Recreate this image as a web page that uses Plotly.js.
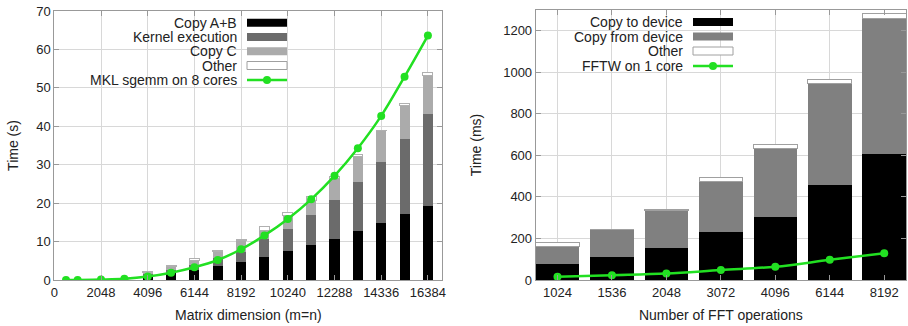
<!DOCTYPE html>
<html>
<head>
<meta charset="utf-8">
<script src="https://cdn.plot.ly/plotly-3.0.1.min.js"></script>
<style>html,body{margin:0;padding:0;background:#fff;}#chart{width:908px;height:326px;}</style>
</head>
<body>
<div id="chart"></div>
<script>
// ---------- Left chart data: SGEMM ----------
const gemmSizes = [4096, 5120, 6144, 7168, 8192, 9216, 10240, 11264, 12288, 13312, 14336, 15360, 16384];
const gemmCopyAB = [0.8, 1.7, 2.6, 3.7, 4.8, 6.1, 7.6, 9.1, 10.8, 12.7, 14.9, 17.1, 19.3];
const gemmKernel = [0.8, 1.0, 1.3, 1.9, 2.6, 4.5, 5.8, 7.8, 10.0, 12.9, 15.8, 19.5, 23.8];
const gemmCopyC  = [0.4, 0.8, 1.3, 1.8, 2.8, 2.4, 3.5, 3.9, 5.5, 6.5, 8.1, 8.9, 10.2];
const gemmOther  = [0.2, 0.2, 0.3, 0.4, 0.4, 0.8, 0.7, 0.9, 0.6, 0.6, 0.2, 0.5, 0.6];
const mklSizes = [512, 1024, 2048, 3072, 4096, 5120, 6144, 7168, 8192, 9216, 10240, 11264, 12288, 13312, 14336, 15360, 16384];
const mklTime  = [0.0, 0.0, 0.1, 0.3, 0.9, 1.9, 3.3, 5.2, 8.0, 11.6, 15.9, 21.0, 27.1, 34.3, 42.7, 52.9, 63.6];
const gemmXTicks = [0, 2048, 4096, 6144, 8192, 10240, 12288, 14336, 16384];

// ---------- Right chart data: FFT ----------
const fftOps = ['1024', '1536', '2048', '3072', '4096', '6144', '8192'];
const fftCopyTo   = [77, 113, 153, 229, 304, 456, 607];
const fftCopyFrom = [84, 129, 180, 246, 327, 491, 654];
const fftOther    = [21, 3, 5, 20, 21, 16, 20];
const fftwTime    = [16, 23, 31, 48, 64, 97, 129];

// ---------- Styles ----------
const W = 908, H = 326;
const px = x => x / W;
const py = y => 1 - y / H;
const FONT = 'Liberation Sans, Arial, sans-serif';
const TXT = '#222';
const FRAME = '#999';
const GRID = '#d8d8d8';
const GREEN = '#22e022';
const C_BLACK = '#000000', C_DARK = '#6b6b6b', C_LIGHT = '#ababab', C_MID = '#808080';

function barTrace(x, y, color, xa, ya, width, lineColor) {
  const t = {type: 'bar', x: x, y: y, xaxis: xa, yaxis: ya, showlegend: false,
    marker: {color: color, line: {color: lineColor || color, width: lineColor ? 1 : 0}},
    hoverinfo: 'skip'};
  if (width) t.width = width;
  return t;
}

const traces = [
  barTrace(gemmSizes, gemmCopyAB, C_BLACK, 'x', 'y', 440),
  barTrace(gemmSizes, gemmKernel, C_DARK, 'x', 'y', 440),
  barTrace(gemmSizes, gemmCopyC, C_LIGHT, 'x', 'y', 440),
  barTrace(gemmSizes, gemmOther, '#ffffff', 'x', 'y', 440, '#b0b0b0'),
  {type: 'scatter', mode: 'lines+markers', x: mklSizes, y: mklTime, xaxis: 'x', yaxis: 'y',
   line: {color: GREEN, width: 2.5, shape: 'spline'}, marker: {color: GREEN, size: 8}, showlegend: false},
  barTrace(fftOps, fftCopyTo, C_BLACK, 'x2', 'y2'),
  barTrace(fftOps, fftCopyFrom, C_MID, 'x2', 'y2'),
  barTrace(fftOps, fftOther, '#ffffff', 'x2', 'y2', null, '#a0a0a0'),
  {type: 'scatter', mode: 'lines+markers', x: fftOps, y: fftwTime, xaxis: 'x2', yaxis: 'y2',
   line: {color: GREEN, width: 2.5, shape: 'spline'}, marker: {color: GREEN, size: 8}, showlegend: false}
];

const axisCommon = {
  showline: true, linecolor: FRAME, linewidth: 1, mirror: 'ticks',
  ticks: 'inside', ticklen: 5, tickcolor: FRAME,
  showgrid: true, gridcolor: GRID, gridwidth: 1, zeroline: false,
  tickfont: {family: FONT, size: 13, color: TXT}
};

// Legend (gnuplot style: text then sample)
const shapes = [];
const annotations = [];
function legend(items, textRight, swL, swR, rows) {
  items.forEach((it, i) => {
    const yc = rows[i];
    annotations.push({xref: 'paper', yref: 'paper', x: px(textRight), y: py(yc), xanchor: 'right', yanchor: 'middle',
      text: it.label, showarrow: false, borderpad: 0,
      font: {family: FONT, size: 14, color: TXT}});
    if (it.kind === 'bar') {
      shapes.push({type: 'rect', xref: 'paper', yref: 'paper', x0: px(swL), x1: px(swR), y0: py(yc - 4), y1: py(yc + 4),
        fillcolor: it.color, line: {color: it.border || it.color, width: it.border ? 1 : 0}, layer: 'above'});
    } else {
      shapes.push({type: 'line', xref: 'paper', yref: 'paper', x0: px(swL), x1: px(swR), y0: py(yc), y1: py(yc),
        line: {color: GREEN, width: 2.5}, layer: 'above'});
      const cx = (swL + swR) / 2;
      shapes.push({type: 'circle', xref: 'paper', yref: 'paper', x0: px(cx - 4), x1: px(cx + 4), y0: py(yc - 4), y1: py(yc + 4),
        fillcolor: GREEN, line: {color: GREEN, width: 0}, layer: 'above'});
    }
  });
}
// white key backgrounds
shapes.push({type: 'rect', xref: 'paper', yref: 'paper', x0: px(55), x1: px(293), y0: py(12), y1: py(88),
  fillcolor: '#ffffff', line: {width: 0}, layer: 'between'});
shapes.push({type: 'rect', xref: 'paper', yref: 'paper', x0: px(537), x1: px(737), y0: py(11), y1: py(72),
  fillcolor: '#ffffff', line: {width: 0}, layer: 'between'});

legend([
  {label: 'Copy A+B', kind: 'bar', color: C_BLACK},
  {label: 'Kernel execution', kind: 'bar', color: C_DARK},
  {label: 'Copy C', kind: 'bar', color: C_LIGHT},
  {label: 'Other', kind: 'bar', color: '#ffffff', border: '#a0a0a0'},
  {label: 'MKL sgemm on 8 cores', kind: 'line'}
], 238, 247, 287, [22.7, 36.9, 51.2, 65.5, 80]);

legend([
  {label: 'Copy to device', kind: 'bar', color: C_BLACK},
  {label: 'Copy from device', kind: 'bar', color: C_MID},
  {label: 'Other', kind: 'bar', color: '#ffffff', border: '#a0a0a0'},
  {label: 'FFTW on 1 core', kind: 'line'}
], 684, 693, 733, [22, 36.5, 51, 66]);

const layout = {
  width: W, height: H,
  margin: {l: 0, r: 0, t: 0, b: 0},
  paper_bgcolor: '#ffffff', plot_bgcolor: '#ffffff',
  barmode: 'stack', bargap: 0.2,
  font: {family: FONT, color: TXT},
  showlegend: false,
  xaxis: Object.assign({}, axisCommon, {
    domain: [px(54.3), px(442.3)], anchor: 'y', range: [0, 17015],
    tickmode: 'array', tickvals: gemmXTicks, ticktext: gemmXTicks.map(String),
    title: {text: 'Matrix dimension (m=n)', font: {family: FONT, size: 14, color: TXT}, standoff: 11}
  }),
  yaxis: Object.assign({}, axisCommon, {
    domain: [py(280), py(11)], anchor: 'x', range: [0, 70], dtick: 10, tick0: 0,
    title: {text: 'Time (s)', font: {family: FONT, size: 14, color: TXT}, standoff: 14}
  }),
  xaxis2: Object.assign({}, axisCommon, {
    domain: [px(535.7), px(906)], anchor: 'y2', type: 'category', range: [-0.4, 6.4],
    title: {text: 'Number of FFT operations', font: {family: FONT, size: 14, color: TXT}, standoff: 11}
  }),
  yaxis2: Object.assign({}, axisCommon, {
    domain: [py(280), py(10)], anchor: 'x2', range: [0, 1300], dtick: 200, tick0: 0,
    title: {text: 'Time (ms)', font: {family: FONT, size: 14, color: TXT}, standoff: 18}
  }),
  shapes: shapes,
  annotations: annotations
};

Plotly.newPlot('chart', traces, layout, {staticPlot: true, displayModeBar: false});
</script>
</body>
</html>
